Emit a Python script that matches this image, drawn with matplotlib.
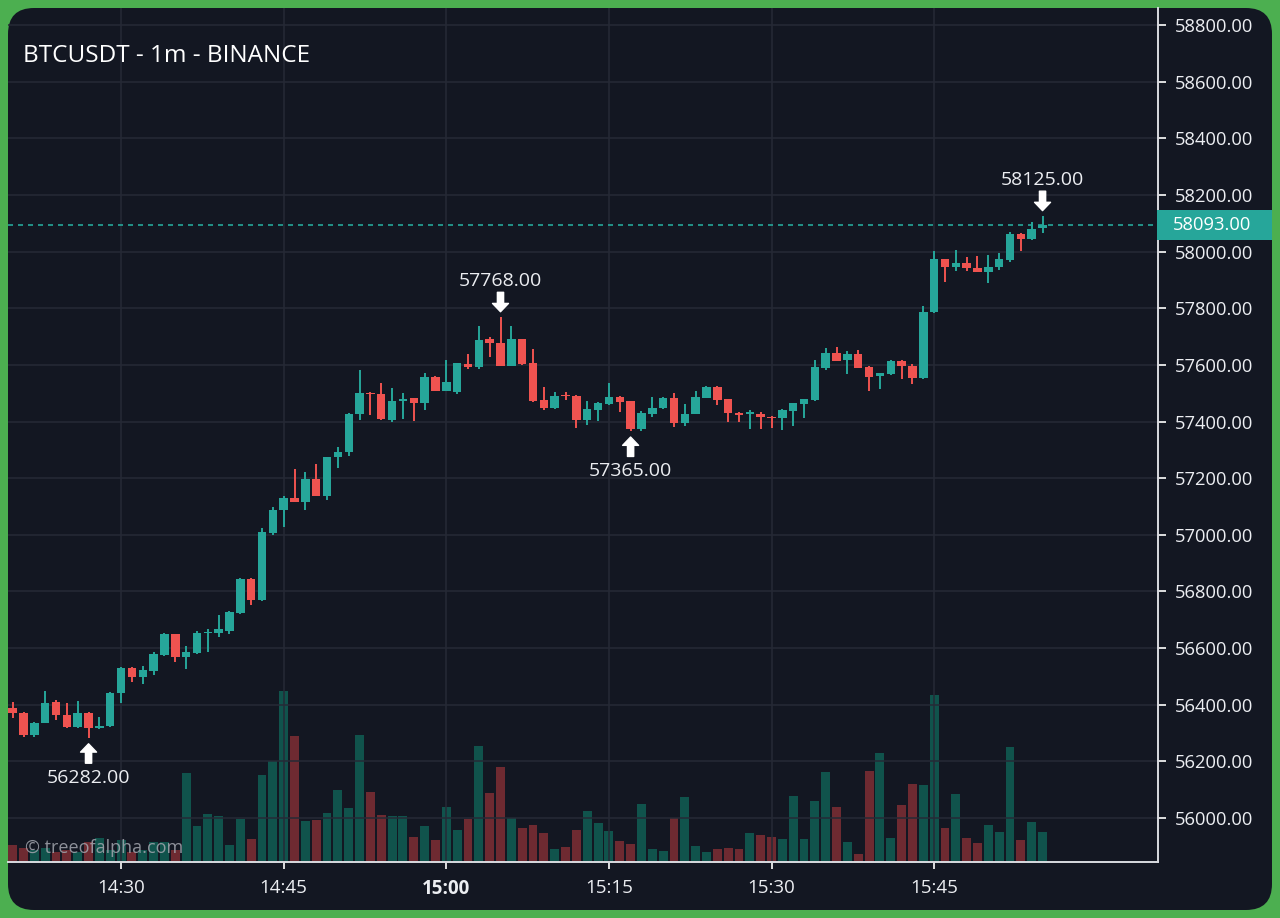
import numpy as np
import pandas as pd
import matplotlib
matplotlib.use("Agg")
import matplotlib.pyplot as plt
from matplotlib.patches import FancyBboxPatch, Rectangle
from matplotlib.transforms import IdentityTransform

plt.rcParams['font.family'] = ['Open Sans', 'DejaVu Sans']

# 1m candles, 14:20 .. 15:55
start = "14:20"
opens = [56388, 56371, 56293, 56337, 56410, 56364, 56322, 56372, 56318, 56324,
         56443, 56531, 56499, 56520, 56576, 56649, 56570, 56582, 56652, 56652,
         56661, 56725, 56844, 56770, 57005, 57088, 57129, 57117, 57196, 57138,
         57274, 57291, 57427, 57502, 57497, 57405, 57474, 57482, 57467, 57558,
         57509, 57505, 57603, 57591, 57691, 57676, 57597, 57690, 57606, 57476,
         57447, 57492, 57491, 57405, 57441, 57462, 57488, 57472, 57372, 57427,
         57447, 57484, 57396, 57427, 57484, 57523, 57478, 57431, 57428, 57425,
         57417, 57411, 57438, 57462, 57476, 57588, 57643, 57617, 57637, 57594,
         57561, 57567, 57615, 57596, 57553, 57786, 57973, 57945, 57959, 57941,
         57929, 57945, 57970, 58062, 58043, 58085]
highs = [56410, 56373, 56340, 56449, 56417, 56405, 56413, 56374, 56358, 56445,
         56533, 56534, 56537, 56587, 56653, 56650, 56608, 56660, 56666, 56717,
         56730, 56846, 56848, 57023, 57097, 57138, 57231, 57221, 57250, 57276,
         57309, 57430, 57582, 57505, 57535, 57517, 57500, 57483, 57572, 57560,
         57617, 57608, 57637, 57737, 57700, 57768, 57737, 57692, 57656, 57523,
         57505, 57505, 57492, 57472, 57470, 57535, 57490, 57474, 57438, 57486,
         57486, 57502, 57461, 57508, 57525, 57525, 57480, 57432, 57441, 57435,
         57419, 57443, 57466, 57480, 57617, 57659, 57664, 57650, 57652, 57596,
         57572, 57617, 57617, 57603, 57808, 58002, 57975, 58006, 57982, 57984,
         57988, 57996, 58070, 58064, 58103, 58125]
lows = [56353, 56285, 56287, 56335, 56346, 56318, 56318, 56282, 56316, 56320,
        56407, 56481, 56472, 56505, 56572, 56552, 56526, 56580, 56587, 56640,
        56650, 56720, 56752, 56768, 56998, 57029, 57116, 57088, 57138, 57123,
        57235, 57278, 57405, 57423, 57407, 57399, 57409, 57402, 57441, 57507,
        57507, 57497, 57584, 57584, 57629, 57595, 57595, 57600, 57470, 57441,
        57445, 57476, 57376, 57388, 57403, 57460, 57435, 57365, 57368, 57415,
        57445, 57382, 57384, 57425, 57482, 57458, 57397, 57399, 57372, 57374,
        57376, 57370, 57384, 57413, 57474, 57582, 57613, 57568, 57588, 57509,
        57514, 57565, 57549, 57531, 57550, 57784, 57894, 57933, 57933, 57927,
        57890, 57935, 57962, 58003, 58041, 58065]
closes = [56371, 56293, 56337, 56407, 56364, 56322, 56372, 56318, 56324, 56443,
          56531, 56499, 56523, 56579, 56649, 56570, 56587, 56652, 56655, 56666,
          56728, 56844, 56770, 57009, 57088, 57129, 57117, 57196, 57138, 57274,
          57293, 57427, 57500, 57496, 57409, 57473, 57478, 57467, 57558, 57509,
          57538, 57606, 57594, 57688, 57676, 57597, 57691, 57603, 57472, 57447,
          57491, 57489, 57405, 57444, 57467, 57488, 57470, 57372, 57431, 57449,
          57484, 57396, 57427, 57486, 57523, 57476, 57429, 57423, 57431, 57417,
          57411, 57441, 57464, 57478, 57594, 57643, 57615, 57637, 57590, 57558,
          57570, 57615, 57596, 57553, 57788, 57973, 57945, 57959, 57941, 57929,
          57947, 57973, 58062, 58044, 58080, 58093]
volumes = [17, 14, 12, 14, 10, 12, 10, 20, 24, 12,
           22, 10, 12, 20, 20, 12, 89, 36, 48, 46,
           17, 43, 23, 87, 101, 171, 126, 41, 42, 49,
           72, 54, 127, 70, 47, 46, 46, 25, 36, 22,
           55, 32, 43, 116, 69, 95, 44, 34, 37, 29,
           13, 15, 32, 51, 39, 31, 21, 18, 58, 13,
           11, 44, 65, 16, 10, 13, 14, 13, 29, 27,
           25, 23, 66, 23, 61, 90, 55, 20, 8, 91,
           109, 24, 57, 78, 77, 167, 34, 68, 24, 19,
           37, 30, 115, 22, 40, 30]

price_ticks = list(range(56000, 58801, 200))
time_ticks = ["14:30", "14:45", "15:00", "15:15", "15:30", "15:45"]

BG = '#131722'
UP, DOWN = '#26a69a', '#ef5350'
UP_VOL, DOWN_VOL = '#10534c', '#6e2a31'
GRID = '#262a36'
TXT = '#eceef2'

o = np.array(opens); h = np.array(highs); l = np.array(lows); c = np.array(closes)
v = np.array(volumes)
times = pd.date_range(start, periods=len(o), freq="1min").strftime("%H:%M")
x = np.arange(len(o))
up = c >= o

fig = plt.figure(figsize=(12.8, 9.18), dpi=100)
fig.patch.set_facecolor('#4caf50')
fig.patches.append(FancyBboxPatch((8, 8), 1264, 902,
                                  boxstyle='round,pad=0,rounding_size=26',
                                  transform=IdentityTransform(),
                                  facecolor=BG, edgecolor='none', zorder=-10))

rect = [8 / 1280, 56 / 918, 1150 / 1280, 854 / 918]
axv = fig.add_axes(rect)
ax = fig.add_axes(rect, sharex=axv)
ax.set_facecolor('none')
axv.set_axis_off()

# volume
axv.bar(x, v, width=0.82, color=np.where(up, UP_VOL, DOWN_VOL), linewidth=0)
axv.set_ylim(0, v.max() * 854 / 171)

# candles
cols = np.where(up, UP, DOWN)
ax.vlines(x, l, h, colors=cols, linewidth=1.4, zorder=3)
body = np.maximum(np.abs(c - o), 4)
ax.bar(x, body, bottom=np.minimum(o, c), width=0.78, color=cols, linewidth=0, zorder=4)

ax.set_xlim(-0.43, 105.65)
ax.set_ylim(55845, 58860)

ax.set_yticks(price_ticks)
ax.set_yticklabels([f"{p:.2f}" for p in price_ticks])
ax.yaxis.tick_right()
tick_idx = [list(times).index(t) for t in time_ticks]
ax.set_xticks(tick_idx)
ax.set_xticklabels(time_ticks)
for lab in ax.get_xticklabels():
    if lab.get_text() == "15:00":
        lab.set_fontweight('bold')
ax.tick_params(axis='y', colors='white', labelcolor=TXT, labelsize=13.2, length=6, width=1.2, pad=6.5)
ax.tick_params(axis='x', colors='white', labelcolor=TXT, labelsize=13.5, length=5, width=1.2, pad=7)
ax.grid(True, color=GRID, linewidth=1.1, zorder=0)
ax.set_axisbelow(True)
for s in ['top', 'left']:
    ax.spines[s].set_visible(False)
for s in ['right', 'bottom']:
    ax.spines[s].set_color('#d9dbe0')
    ax.spines[s].set_linewidth(1.4)

# last price line and label box
last = c[-1]
ax.axhline(last, color=UP, linestyle=(0, (3, 3)), linewidth=1.2, zorder=2)
y_last = ax.transData.transform((0, last))[1]
fig.patches.append(Rectangle((1157, y_last - 15), 115, 30, transform=IdentityTransform(),
                             facecolor=UP, edgecolor='none', zorder=5))
fig.text(1173 / 1280, y_last / 918, f"{last:.2f}", fontsize=13.2, color='white',
         ha='left', va='center', zorder=6)

# high / low markers
arrow = dict(arrowstyle='simple,head_length=0.6,head_width=1.15,tail_width=0.45',
             color='white', shrinkA=0, shrinkB=4, mutation_scale=10)
marks = [(int(np.argmin(l[:30])), 'low'), (int(np.argmax(h[30:55])) + 30, 'high'),
         (int(np.argmin(l[50:70])) + 50, 'low'), (int(np.argmax(h)), 'high')]
for i, kind in marks:
    if kind == 'high':
        ax.annotate('', xy=(i, h[i]), xytext=(0, 25), textcoords='offset pixels', arrowprops=arrow)
        ax.annotate(f"{h[i]:.2f}", xy=(i, h[i]), xytext=(0, 36), textcoords='offset pixels',
                    ha='center', va='center', fontsize=14, color=TXT)
    else:
        ax.annotate('', xy=(i, l[i]), xytext=(0, -25), textcoords='offset pixels', arrowprops=arrow)
        ax.annotate(f"{l[i]:.2f}", xy=(i, l[i]), xytext=(0, -40), textcoords='offset pixels',
                    ha='center', va='center', fontsize=14, color=TXT)

fig.text(23 / 1280, 1 - 56 / 918, "BTCUSDT - 1m - BINANCE", fontsize=17.5, color='white',
         ha='left', va='center')
fig.text(25 / 1280, 1 - 848 / 918, "© treeofalpha.com", fontsize=13, color='#a3a6af',
         alpha=0.85, ha='left', va='center')

fig.savefig("out.png", dpi=100, facecolor=fig.get_facecolor())
